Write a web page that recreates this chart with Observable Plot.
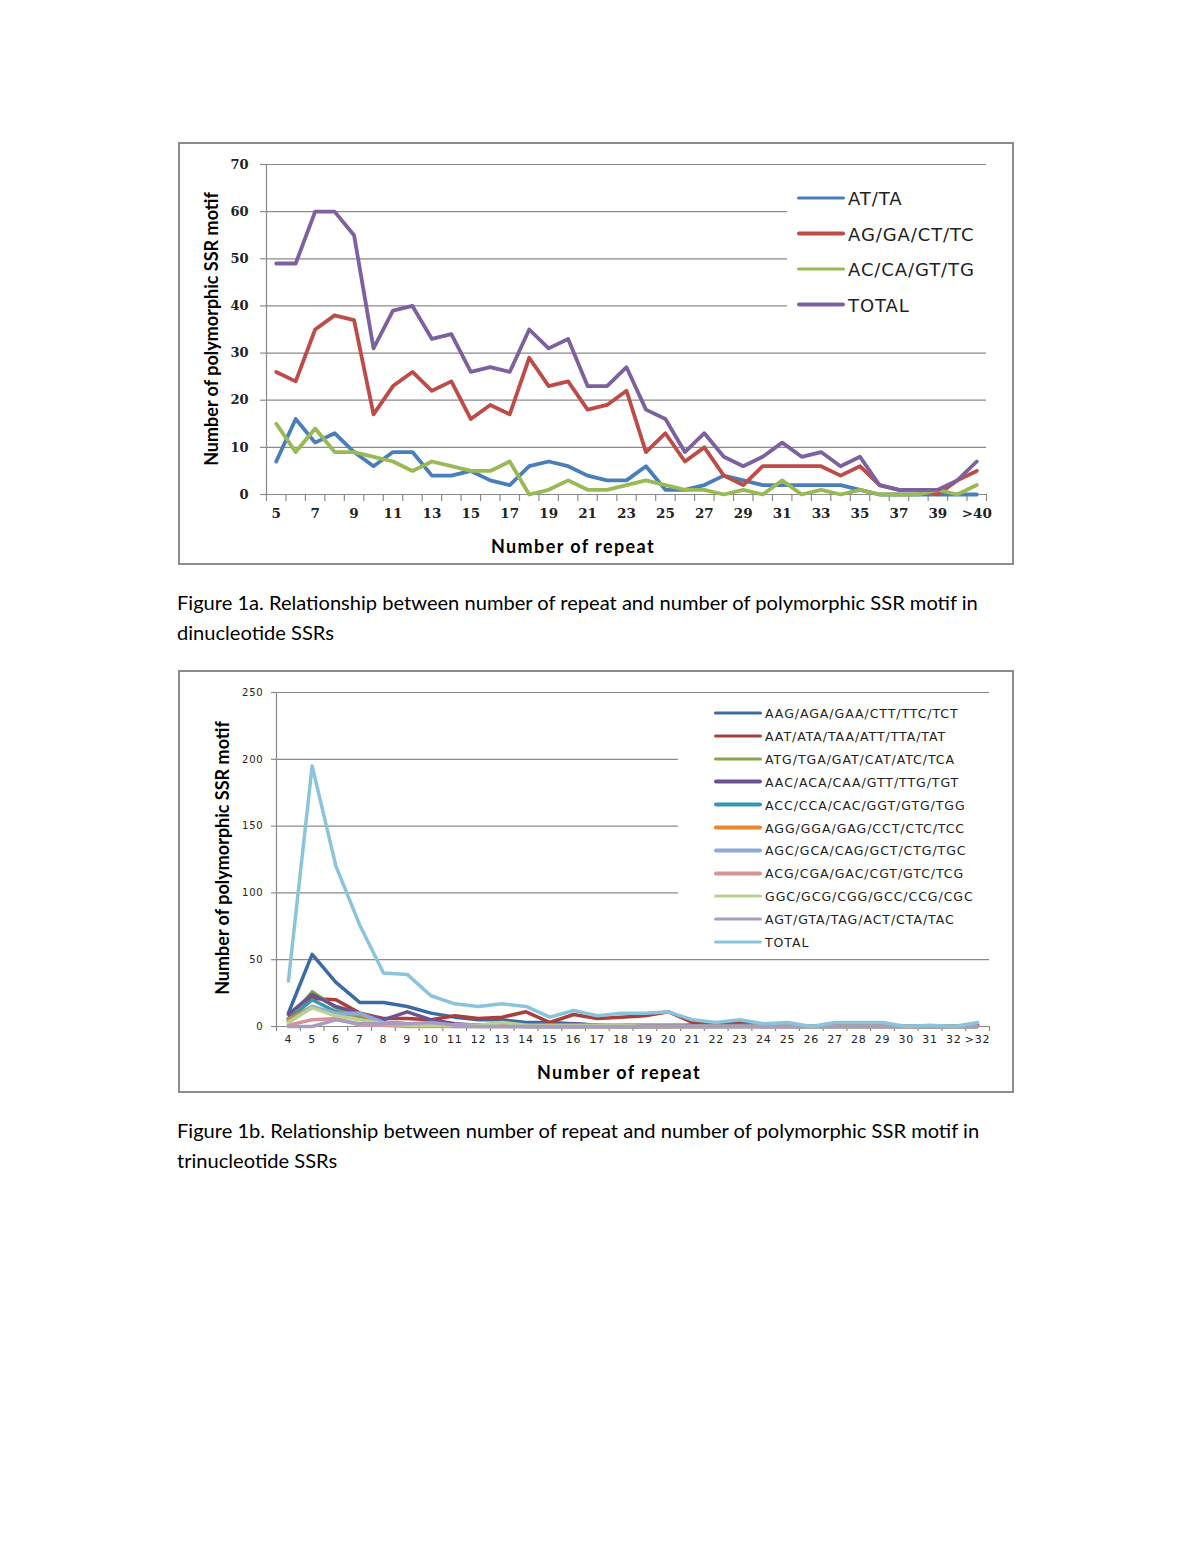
<!DOCTYPE html>
<html><head><meta charset="utf-8">
<script src="https://cdn.jsdelivr.net/npm/d3@7"></script>
<script src="https://cdn.jsdelivr.net/npm/@observablehq/plot@0.6"></script>
<style>
body{margin:0;background:#fff;width:1200px;height:1553px;position:relative;overflow:hidden;font-family:Lato,sans-serif;color:#000;}
.frame{position:absolute;border:2px solid #8c8c8c;box-sizing:border-box;width:836px;height:423px;left:178px;background:#fff;}
.frame svg{position:absolute;left:0;top:0;}
.ytitle{position:absolute;font-family:Lato,sans-serif;font-weight:bold;font-size:18px;white-space:nowrap;transform:translate(-50%,-50%) rotate(-90deg);}
.xtitle{position:absolute;font-family:Lato,sans-serif;font-weight:bold;font-size:18px;letter-spacing:1.4px;white-space:nowrap;transform:translate(-50%,-50%);}
.caption{position:absolute;left:177px;font-family:Lato,sans-serif;font-size:20.1px;line-height:30px;white-space:nowrap;}
.legend{position:absolute;background:#fff;}
.legend .row{position:absolute;left:0;display:flex;align-items:center;white-space:nowrap;transform:translateY(-50%);}
.legend .sw{display:inline-block;border-radius:2px;}
</style></head><body>

<div id="f1" class="frame" style="top:142px"></div>
<div class="caption" style="top:587px">Figure 1a. Relationship between number of repeat and number of polymorphic SSR motif in<br>dinucleotide SSRs</div>
<div id="f2" class="frame" style="top:670px"></div>
<div class="caption" style="top:1115px">Figure 1b. Relationship between number of repeat and number of polymorphic SSR motif in<br>trinucleotide SSRs</div>

<script>
// ---------- Figure 1a: dinucleotide ----------
const dinuCats = ["5","6","7","8","9","10","11","12","13","14","15","16","17","18","19","20","21","22","23","24","25","26","27","28","29","30","31","32","33","34","35","36","37","38","39","40",">40"];
const dinuXLabels = ["5","7","9","11","13","15","17","19","21","23","25","27","29","31","33","35","37","39",">40"];
const dinuYTicks = [0,10,20,30,40,50,60,70];
const dinuSeries = ["AT/TA","AG/GA/CT/TC","AC/CA/GT/TG","TOTAL"];
const dinuColors = ["#4A7EBB","#BE4B48","#98B954","#7D60A0"];
const dinuAT    = [7,16,11,13,9,6,9,9,4,4,5,3,2,6,7,6,4,3,3,6,1,1,2,4,3,2,2,2,2,2,1,0,0,0,0,0,0];
const dinuAG    = [26,24,35,38,37,17,23,26,22,24,16,19,17,29,23,24,18,19,22,9,13,7,10,4,2,6,6,6,6,4,6,2,1,1,0,3,5];
const dinuAC    = [15,9,14,9,9,8,7,5,7,6,5,5,7,0,1,3,1,1,2,3,2,1,1,0,1,0,3,0,1,0,1,0,0,0,1,0,2];
const dinuTotal = [49,49,60,60,55,31,39,40,33,34,26,27,26,35,31,33,23,23,27,18,16,9,13,8,6,8,11,8,9,6,8,2,1,1,1,3,7];

// ---------- Figure 1b: trinucleotide ----------
const triCats = ["4","5","6","7","8","9","10","11","12","13","14","15","16","17","18","19","20","21","22","23","24","25","26","27","28","29","30","31","32",">32"];
const triYTicks = [0,50,100,150,200,250];
const triSeries = ["AAG/AGA/GAA/CTT/TTC/TCT","AAT/ATA/TAA/ATT/TTA/TAT","ATG/TGA/GAT/CAT/ATC/TCA","AAC/ACA/CAA/GTT/TTG/TGT","ACC/CCA/CAC/GGT/GTG/TGG","AGG/GGA/GAG/CCT/CTC/TCC","AGC/GCA/CAG/GCT/CTG/TGC","ACG/CGA/GAC/CGT/GTC/TCG","GGC/GCG/CGG/GCC/CCG/CGC","AGT/GTA/TAG/ACT/CTA/TAC","TOTAL"];
const triColors = ["#3B6BA5","#AA3E3B","#85A646","#6B5290","#3399B0","#E9862F","#8DA9D4","#D69494","#B9D38E","#A99CC2","#8BC4DA"];
const triAAG = [10,54,33,18,18,15,10,7,5,5,3,3,2,1,0,0,0,1,2,3,1,1,0,1,1,1,0,0,0,1];
const triAAT = [6,21,20,10,6,6,5,8,6,7,11,3,9,6,7,8,11,3,1,2,0,1,0,1,1,1,0,0,0,1];
const triATG = [4,26,14,7,3,2,1,1,1,1,1,0,0,0,0,0,0,0,0,1,1,1,0,0,0,0,0,0,0,0];
const triAAC = [9,24,15,10,5,11,5,2,1,1,1,1,2,1,1,1,1,1,1,1,0,0,0,0,0,0,0,0,0,0];
const triACC = [5,20,11,8,3,2,1,1,1,1,0,0,0,0,0,0,0,0,0,0,0,0,0,0,0,0,0,0,0,0];
const triAGG = [5,15,8,9,2,1,1,1,1,1,0,0,0,0,0,0,0,0,0,0,0,0,0,0,0,0,0,0,0,0];
const triAGC = [3,15,10,10,3,2,1,0,0,0,0,0,0,0,0,0,0,0,0,0,0,0,0,0,0,0,0,0,0,0];
const triACG = [1,5,6,1,1,0,0,0,0,0,0,0,0,0,0,0,0,0,0,0,0,0,0,0,0,0,0,0,0,0];
const triGGC = [3,14,8,5,2,1,1,1,1,3,1,1,1,1,1,0,0,0,0,0,0,0,0,0,0,0,0,0,0,0];
const triAGT = [0,0,5,2,2,2,3,1,0,0,0,0,0,0,0,0,0,0,0,0,0,0,0,0,0,0,0,0,0,0];
const triTotal = [34,195,120,76,40,39,23,17,15,17,15,7,12,8,10,10,11,5,3,5,2,3,0,3,3,3,0,1,0,3];

function rowsOf(cats, names, arrays) {
  const rows = [];
  names.forEach((s, k) => arrays[k].forEach((v, i) => rows.push({series: s, cat: cats[i], i, value: v})));
  return rows;
}

const GRID = "#8a8a8a";

function chart(o) {
  const n = o.cats.length;
  const labelPos = o.labels.map(l => o.cats.indexOf(l) + 0.5);
  return Plot.plot({
    width: 832, height: 419,
    marginLeft: o.ml, marginRight: o.mr, marginTop: o.mt, marginBottom: o.mb,
    style: {background: "transparent", overflow: "visible"},
    x: {type: "linear", domain: [0, n], axis: null},
    y: {domain: [0, o.yTicks[o.yTicks.length - 1]], axis: null},
    color: {domain: o.names, range: o.colors},
    marks: [
      Plot.gridY(o.yTicks.slice(1), {stroke: GRID, strokeOpacity: 1, strokeWidth: 1.2}),
      Plot.ruleX([0], {stroke: GRID, strokeWidth: 1.2}),
      Plot.ruleY([0], {stroke: GRID, strokeWidth: 1.2}),
      Plot.axisY(o.yTicks, {tickSize: o.yTickSize, tickPadding: o.yPad, stroke: GRID, strokeWidth: 1.2, fill: "#222",
        fontSize: o.yFont, fontFamily: o.yFamily, fontWeight: o.yWeight, label: null, tickFormat: d => String(d)}),
      Plot.axisX(d3.range(0, n + 1), {tickSize: o.xTickSize, stroke: GRID, strokeWidth: 1.2, tickFormat: () => "", label: null}),
      Plot.axisX(labelPos, {tickSize: 0, tickPadding: o.xPad, fill: "#222", fontSize: o.xFont, fontFamily: o.xFamily,
        fontWeight: o.xWeight, label: null, tickFormat: v => o.cats[Math.floor(v)]}),
      Plot.line(rowsOf(o.cats, o.names, o.arrays), {x: d => d.i + 0.5, y: "value", z: "series", stroke: "series",
        strokeWidth: o.lw, strokeLinejoin: "round", strokeLinecap: "round"})
    ]
  });
}

const svg1 = chart({
  cats: dinuCats, labels: dinuXLabels, yTicks: dinuYTicks, names: dinuSeries, colors: dinuColors,
  arrays: [dinuAT, dinuAG, dinuAC, dinuTotal],
  ml: 86, mr: 26, mt: 20, mb: 69, yTickSize: 6, yPad: 12, xTickSize: 7, xPad: 14,
  yFont: 13, yFamily: "DejaVu Serif", yWeight: "bold", xFont: 13.5, xFamily: "DejaVu Serif", xWeight: "bold", lw: 3.8
});
document.getElementById("f1").appendChild(svg1);

const svg2 = chart({
  cats: triCats, labels: triCats, yTicks: triYTicks, names: triSeries, colors: triColors,
  arrays: [triAAG, triAAT, triATG, triAAC, triACC, triAGG, triAGC, triACG, triGGC, triAGT, triTotal],
  ml: 96, mr: 23, mt: 20, mb: 65, yTickSize: 5, yPad: 8, xTickSize: 5, xPad: 9,
  yFont: 10, yFamily: "DejaVu Sans", yWeight: "normal", xFont: 11, xFamily: "DejaVu Sans", xWeight: "normal", lw: 3.5
});
document.getElementById("f2").appendChild(svg2);

// letter spacing for tick labels of 1b
svg2.querySelectorAll("text").forEach(t => t.style.letterSpacing = "0.8px");

// ---------- titles ----------
function addDiv(parent, cls, text, x, y, extra) {
  const d = document.createElement("div");
  d.className = cls; d.textContent = text;
  d.style.left = x + "px"; d.style.top = y + "px";
  Object.assign(d.style, extra || {});
  parent.appendChild(d);
  return d;
}
addDiv(document.body, "ytitle", "Number of polymorphic SSR motif", 211, 329);
addDiv(document.body, "xtitle", "Number of repeat", 573, 546);
addDiv(document.body, "ytitle", "Number of polymorphic SSR motif", 222, 858);
addDiv(document.body, "xtitle", "Number of repeat", 619, 1072);

// ---------- legends ----------
function legend(names, colors, box, rowY, swW, lw, font) {
  const L = document.createElement("div");
  L.className = "legend";
  Object.assign(L.style, {left: box.x + "px", top: box.y + "px", width: box.w + "px", height: box.h + "px"});
  names.forEach((s, k) => {
    const r = document.createElement("div");
    r.className = "row";
    r.style.top = (rowY[k] - box.y) + "px";
    r.style.left = box.pad + "px";
    const sw = document.createElement("span");
    sw.className = "sw";
    Object.assign(sw.style, {width: swW + "px", height: lw + "px", background: colors[k], marginRight: "3px"});
    const t = document.createElement("span");
    t.textContent = s;
    Object.assign(t.style, font);
    r.appendChild(sw); r.appendChild(t);
    L.appendChild(r);
  });
  document.body.appendChild(L);
}
legend(dinuSeries, dinuColors, {x: 787, y: 172, w: 205, h: 166, pad: 10}, [198, 233.5, 269, 304.5], 48, 3.8,
  {fontFamily: "DejaVu Sans", fontSize: "18px", letterSpacing: "0.9px", color: "#222"});
legend(triSeries, triColors, {x: 678, y: 700, w: 312, h: 252, pad: 36}, d3.range(11).map(k => 713 + k * 22.9), 48, 3.5,
  {fontFamily: "DejaVu Sans", fontSize: "12.5px", letterSpacing: "0.95px", color: "#222"});
</script>
</body></html>
